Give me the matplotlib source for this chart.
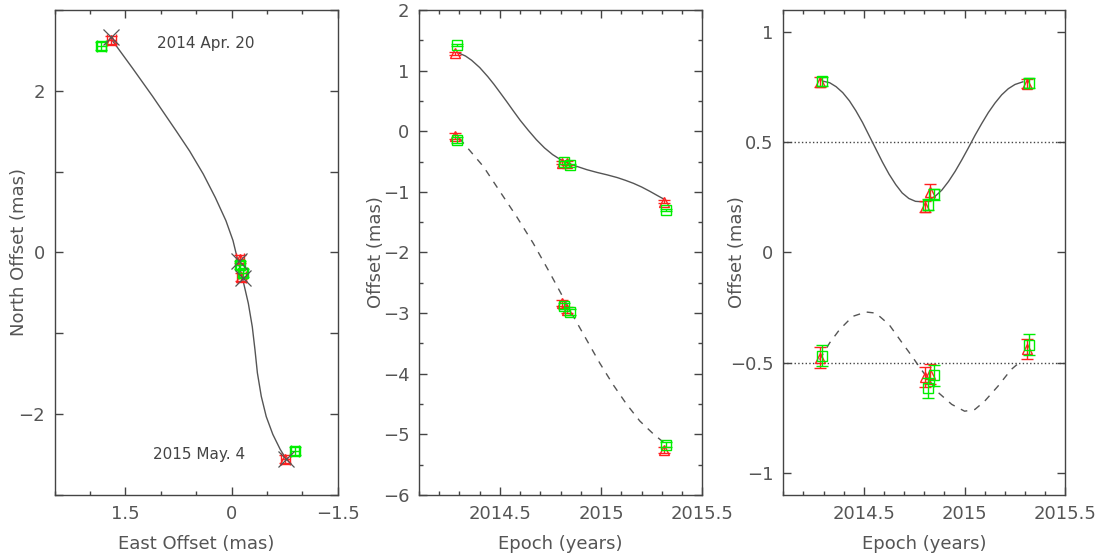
import matplotlib
matplotlib.use('Agg')
import matplotlib.pyplot as plt
from matplotlib.ticker import MultipleLocator, FuncFormatter

# epochs (years) of the two data sets
t_red = [2014.28, 2014.805, 2014.83, 2015.31]
t_grn = [2014.29, 2014.818, 2014.848, 2015.32]

# sky positions (mas), left panel
east_red = [1.70, -0.12, -0.14, -0.76]
north_red = [2.63, -0.08, -0.30, -2.56]
east_grn = [1.84, -0.12, -0.16, -0.90]
north_grn = [2.55, -0.15, -0.25, -2.46]
model_east = [1.70, -0.10, -0.16, -0.77]
model_north = [2.66, -0.11, -0.32, -2.56]

track_east = [1.70, 1.40, 1.115, 0.78, 0.593, 0.40, 0.23, 0.08, -0.02, -0.094,
              -0.156, -0.237, -0.293, -0.331, -0.365, -0.42, -0.49, -0.583, -0.687, -0.768]
track_north = [2.64, 2.28, 1.93, 1.50, 1.255, 0.97, 0.68, 0.394, 0.148, -0.119,
               -0.324, -0.63, -0.92, -1.205, -1.49, -1.78, -2.03, -2.25, -2.435, -2.55]

# offsets vs time, middle panel
ra_red = [1.285, -0.52, -0.52, -1.16]
ra_grn = [1.42, -0.51, -0.56, -1.30]
dec_red = [-0.08, -2.83, -2.95, -5.26]
dec_grn = [-0.14, -2.88, -2.98, -5.17]

fit_t_ra = [2014.299, 2014.33, 2014.36, 2014.40, 2014.44, 2014.47, 2014.50, 2014.533,
            2014.565, 2014.60, 2014.64, 2014.68, 2014.72, 2014.76, 2014.80, 2014.84,
            2014.88, 2014.93, 2014.98, 2015.03, 2015.08, 2015.12, 2015.16, 2015.20,
            2015.24, 2015.28, 2015.31]
fit_ra = [1.286, 1.24, 1.17, 1.05, 0.90, 0.775, 0.64, 0.49,
          0.34, 0.18, 0.015, -0.14, -0.275, -0.385, -0.47, -0.53,
          -0.58, -0.635, -0.68, -0.72, -0.765, -0.81, -0.86, -0.92,
          -0.99, -1.065, -1.12]
fit_t_dec = [2014.299, 2014.418, 2014.5, 2014.582, 2014.664, 2014.747, 2014.812, 2014.862,
             2014.928, 2014.993, 2015.059, 2015.125, 2015.191, 2015.257, 2015.322]
fit_dec = [-0.115, -0.582, -0.995, -1.407, -1.846, -2.34, -2.74, -3.05,
           -3.44, -3.824, -4.18, -4.50, -4.78, -4.99, -5.17]

# parallax-only residuals, right panel (shifted by +-0.5)
par_ra_red = [0.774, 0.208, 0.276, 0.766]
par_ra_grn = [0.776, 0.216, 0.265, 0.769]
par_dec_red = [-0.478, -0.565, -0.55, -0.437]
par_dec_grn = [-0.468, -0.615, -0.558, -0.418]
err_ra_red = [0.022, 0.026, 0.034, 0.02]
err_ra_grn = [0.02, 0.025, 0.025, 0.022]
err_dec_red = [0.047, 0.045, 0.045, 0.045]
err_dec_grn = [0.048, 0.047, 0.047, 0.046]

par_t_ra = [2014.297, 2014.33, 2014.362, 2014.395, 2014.428, 2014.46, 2014.493, 2014.526,
            2014.559, 2014.592, 2014.625, 2014.658, 2014.69, 2014.723, 2014.756, 2014.789,
            2014.821, 2014.854, 2014.887, 2014.92, 2014.953, 2014.986, 2015.019, 2015.052,
            2015.085, 2015.118, 2015.151, 2015.184, 2015.217, 2015.25, 2015.289]
par_ra = [0.777, 0.770, 0.752, 0.725, 0.688, 0.643, 0.59, 0.53,
          0.47, 0.41, 0.355, 0.308, 0.27, 0.245, 0.232, 0.23,
          0.238, 0.255, 0.283, 0.322, 0.368, 0.42, 0.475, 0.532,
          0.585, 0.635, 0.678, 0.715, 0.743, 0.762, 0.774]
par_t_dec = [2014.28, 2014.33, 2014.379, 2014.444, 2014.51, 2014.559, 2014.625, 2014.69,
             2014.739, 2014.772, 2014.821, 2014.87, 2014.936, 2015.0, 2015.051, 2015.1,
             2015.166, 2015.231, 2015.28]
par_dec = [-0.486, -0.41, -0.35, -0.29, -0.27, -0.275, -0.327, -0.41,
           -0.471, -0.515, -0.576, -0.636, -0.689, -0.72, -0.712, -0.674,
           -0.606, -0.531, -0.493]

gray = '#555555'
frame = '#444444'
plt.rcParams['font.family'] = ['DejaVu Sans']
plt.rcParams['font.size'] = 13

fig = plt.figure(figsize=(11.05, 5.6), dpi=100)
ax1 = fig.add_axes([0.0495, 0.1161, 0.2561, 0.8661])
ax2 = fig.add_axes([0.3792, 0.1161, 0.2564, 0.8661])
ax3 = fig.add_axes([0.7089, 0.1161, 0.2552, 0.8661])

fmt = FuncFormatter(lambda v, p: ('%g' % v).replace('-', '\u2212'))


def pts(ax, x, y, yerr, xerr=None, red=True):
    if red:
        ax.errorbar(x, y, yerr=yerr, xerr=xerr, fmt='^', ms=7, mfc='none', mec='#ff2020',
                    ecolor='#ff2020', elinewidth=1, capsize=4.5, capthick=1, mew=1, zorder=3)
    else:
        ax.errorbar(x, y, yerr=yerr, xerr=xerr, fmt='s', ms=6.5, mfc='none', mec='#00ee00',
                    ecolor='#00ee00', elinewidth=1, capsize=4.5, capthick=1, mew=1, zorder=4)


# left: track on the sky
ax1.plot(track_east, track_north, '-', color=gray, lw=1)
pts(ax1, east_grn, north_grn, 0.05, 0.06, red=False)
pts(ax1, east_red, north_red, 0.05, 0.06)
ax1.plot(model_east, model_north, 'x', color=gray, ms=12, mew=0.9, zorder=5)
ax1.text(0.36, 2.59, '2014 Apr. 20', color='#444444', fontsize=11, ha='center', va='center')
ax1.text(0.465, -2.50, '2015 May. 4', color='#444444', fontsize=11, ha='center', va='center')
ax1.set_xlim(2.5, -1.5)
ax1.set_ylim(-3, 3)
ax1.xaxis.set_major_locator(MultipleLocator(1.5))
ax1.xaxis.set_minor_locator(MultipleLocator(0.5))
ax1.yaxis.set_major_locator(MultipleLocator(2))
ax1.yaxis.set_minor_locator(MultipleLocator(1))
ax1.set_xlabel('East Offset (mas)', color=gray)
ax1.set_ylabel('North Offset (mas)', color=gray)
ax1.yaxis.set_label_coords(-0.094, 0.5)

# middle: offsets against time
ax2.plot(fit_t_ra, fit_ra, '-', color=gray, lw=1)
ax2.plot(fit_t_dec, fit_dec, '--', color=gray, lw=1, dashes=(5, 5))
pts(ax2, t_red, ra_red, err_ra_red)
pts(ax2, t_grn, ra_grn, err_ra_grn, red=False)
pts(ax2, t_red, dec_red, err_dec_red)
pts(ax2, t_grn, dec_grn, err_dec_grn, red=False)
ax2.set_xlim(2014.1, 2015.5)
ax2.set_ylim(-6, 2)
ax2.yaxis.set_major_locator(MultipleLocator(1))
ax2.yaxis.set_minor_locator(MultipleLocator(0.5))
ax2.set_ylabel('Offset (mas)', color=gray)
ax2.yaxis.set_label_coords(-0.12, 0.5)

# right: parallax signature only
ax3.axhline(0.5, ls=':', color=frame, lw=1)
ax3.axhline(-0.5, ls=':', color=frame, lw=1)
ax3.plot(par_t_ra, par_ra, '-', color=gray, lw=1)
ax3.plot(par_t_dec, par_dec, '--', color=gray, lw=1, dashes=(5, 5))
pts(ax3, t_red, par_ra_red, err_ra_red)
pts(ax3, t_grn, par_ra_grn, err_ra_grn, red=False)
pts(ax3, t_red, par_dec_red, err_dec_red)
pts(ax3, t_grn, par_dec_grn, err_dec_grn, red=False)
ax3.set_xlim(2014.1, 2015.5)
ax3.set_ylim(-1.1, 1.1)
ax3.yaxis.set_major_locator(MultipleLocator(0.5))
ax3.set_ylabel('Offset (mas)', color=gray)
ax3.yaxis.set_label_coords(-0.131, 0.5)

for ax in (ax2, ax3):
    ax.xaxis.set_major_locator(MultipleLocator(0.5))
    ax.xaxis.set_minor_locator(MultipleLocator(0.1))
    ax.set_xlabel('Epoch (years)', color=gray)

for ax in (ax1, ax2, ax3):
    ax.xaxis.set_major_formatter(fmt)
    ax.yaxis.set_major_formatter(fmt)
    ax.tick_params(which='both', direction='in', top=True, right=True, color=frame,
                   labelcolor=gray, labelsize=13, width=1)
    ax.tick_params(which='major', length=6, pad=7)
    ax.tick_params(which='minor', length=3)
    ax.xaxis.set_label_coords(0.5, -0.083)
    for s in ax.spines.values():
        s.set_color(frame)
        s.set_linewidth(1)
ax1.tick_params(axis='y', which='minor', length=6)

fig.savefig('out.png', dpi=100)
